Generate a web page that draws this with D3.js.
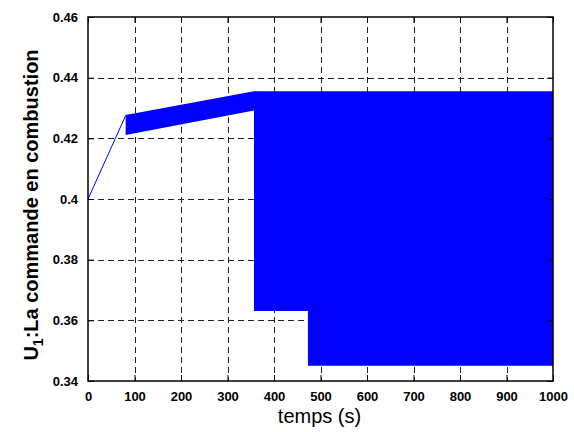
<!DOCTYPE html>
<html>
<head>
<meta charset="utf-8">
<script src="https://cdn.jsdelivr.net/npm/d3@7/dist/d3.min.js"></script>
<style>
  html, body { margin: 0; padding: 0; background: #fff; }
  svg { display: block; }
</style>
</head>
<body>
<svg id="chart" width="574" height="432"></svg>
<script>
// Tick values
const xTicks = [0, 100, 200, 300, 400, 500, 600, 700, 800, 900, 1000];
const yTicks = [0.34, 0.36, 0.38, 0.40, 0.42, 0.44, 0.46];

// Initial ramp of the command (single trace)
const rampTime = [0, 81];
const rampValue = [0.400, 0.4275];

// Envelope of the fast switching command: time, upper bound, lower bound
const bandTime  = [81,     357,    357,    473,    473,    1000];
const bandUpper = [0.4277, 0.4355, 0.4355, 0.4355, 0.4355, 0.4355];
const bandLower = [0.4211, 0.4292, 0.3631, 0.3631, 0.3450, 0.3450];

const svg = d3.select("#chart");
const m = { left: 88, top: 17, right: 553, bottom: 381 };

const x = d3.scaleLinear().domain([0, 1000]).range([m.left, m.right]);
const y = d3.scaleLinear().domain([0.34, 0.46]).range([m.bottom, m.top]);

// Grid
const grid = svg.append("g").attr("stroke", "#222").attr("stroke-width", 1)
  .attr("stroke-dasharray", "6,4").attr("fill", "none");
xTicks.slice(1, -1).forEach(t => {
  grid.append("line").attr("x1", Math.round(x(t)) + 0.5).attr("x2", Math.round(x(t)) + 0.5)
    .attr("y1", m.top).attr("y2", m.bottom);
});
yTicks.slice(1, -1).forEach(t => {
  grid.append("line").attr("y1", Math.round(y(t)) + 0.5).attr("y2", Math.round(y(t)) + 0.5)
    .attr("x1", m.left).attr("x2", m.right);
});

// Switching envelope
const bandData = bandTime.map((t, i) => ({ t, hi: bandUpper[i], lo: bandLower[i] }));
svg.append("path").datum(bandData)
  .attr("fill", "#0000ff")
  .attr("d", d3.area().x(d => x(d.t)).y0(d => y(d.lo)).y1(d => y(d.hi)));

// Ramp trace
const rampData = rampTime.map((t, i) => ({ t, v: rampValue[i] }));
svg.append("path").datum(rampData)
  .attr("fill", "none").attr("stroke", "#0000ff").attr("stroke-width", 1)
  .attr("d", d3.line().x(d => x(d.t)).y(d => y(d.v)));

// Axes with inward ticks on all four sides
const font = "'Liberation Sans', Arial, sans-serif";
function styleAxis(g) {
  g.select(".domain").remove();
  g.selectAll(".tick line").attr("stroke", "#000").attr("stroke-width", 1);
  g.selectAll(".tick text").attr("font-family", font).attr("font-size", 13)
    .attr("font-weight", "bold").attr("fill", "#000");
}
svg.append("g").attr("transform", `translate(0,${m.bottom})`)
  .call(d3.axisBottom(x).tickValues(xTicks).tickSizeInner(-6).tickSizeOuter(0).tickPadding(11).tickFormat(d3.format("d")))
  .call(styleAxis);
svg.append("g").attr("transform", `translate(0,${m.top})`)
  .call(d3.axisTop(x).tickValues(xTicks).tickSizeInner(-6).tickSizeOuter(0).tickFormat(""))
  .call(styleAxis);
svg.append("g").attr("transform", `translate(${m.left},0)`)
  .call(d3.axisLeft(y).tickValues(yTicks).tickSizeInner(-6).tickSizeOuter(0).tickPadding(10)
    .tickFormat(d => d3.format("")(+d.toFixed(2))))
  .call(styleAxis);
svg.append("g").attr("transform", `translate(${m.right},0)`)
  .call(d3.axisRight(y).tickValues(yTicks).tickSizeInner(-6).tickSizeOuter(0).tickFormat(""))
  .call(styleAxis);

// Frame
svg.append("rect").attr("x", m.left).attr("y", m.top)
  .attr("width", m.right - m.left).attr("height", m.bottom - m.top)
  .attr("fill", "none").attr("stroke", "#000").attr("stroke-width", 1.5);

// Axis titles
svg.append("text").attr("x", (m.left + m.right) / 2 - 1).attr("y", 423)
  .attr("text-anchor", "middle").attr("font-family", font).attr("font-size", 20)
  .attr("fill", "#000").text("temps (s)");

const yl = svg.append("text")
  .attr("transform", `translate(38,${(m.top + m.bottom) / 2 + 6}) rotate(-90)`)
  .attr("text-anchor", "middle").attr("font-family", font).attr("font-size", 20)
  .attr("font-weight", "bold").attr("fill", "#000");
yl.append("tspan").text("U");
yl.append("tspan").attr("font-size", 14).attr("dy", 5).text("1");
yl.append("tspan").attr("dy", -5).text(":La commande en combustion");
</script>
</body>
</html>
